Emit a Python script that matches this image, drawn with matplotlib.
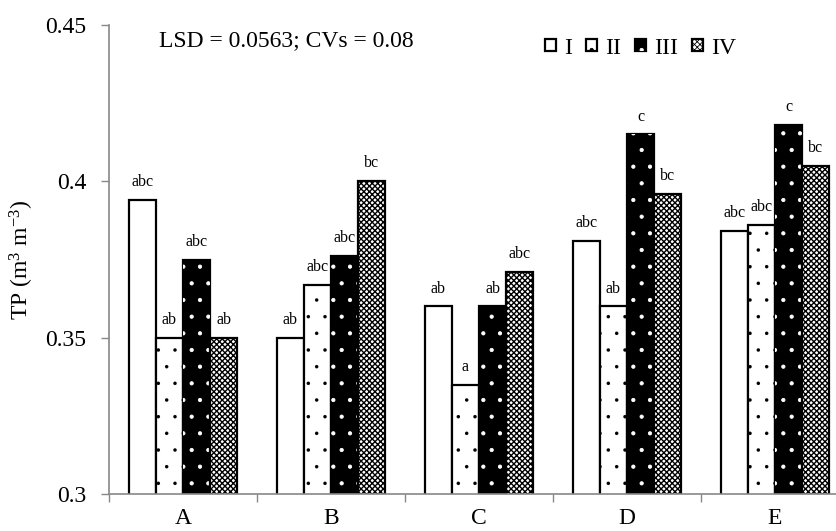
import matplotlib
matplotlib.use("Agg")
import matplotlib.pyplot as plt
import numpy as np

plt.rcParams['font.family'] = ['Liberation Serif', 'DejaVu Serif']
plt.rcParams['mathtext.fontset'] = 'custom'
plt.rcParams['mathtext.rm'] = 'Liberation Serif'
plt.rcParams['mathtext.it'] = 'Liberation Serif:italic'
plt.rcParams['hatch.linewidth'] = 0.6

# treatments on the x axis and the four series
groups = ['A', 'B', 'C', 'D', 'E']
series = ['I', 'II', 'III', 'IV']
tp_I = [0.394, 0.350, 0.360, 0.381, 0.384]
tp_II = [0.350, 0.367, 0.335, 0.360, 0.386]
tp_III = [0.375, 0.376, 0.360, 0.415, 0.418]
tp_IV = [0.350, 0.400, 0.371, 0.396, 0.405]
letters_I = ['abc', 'ab', 'ab', 'abc', 'abc']
letters_II = ['ab', 'abc', 'a', 'ab', 'abc']
letters_III = ['abc', 'abc', 'ab', 'c', 'c']
letters_IV = ['ab', 'bc', 'abc', 'bc', 'bc']

values = [tp_I, tp_II, tp_III, tp_IV]
letters = [letters_I, letters_II, letters_III, letters_IV]

fs = 17

fig = plt.figure(figsize=(8.36, 5.31), dpi=100)
ax = fig.add_axes([109/836, 37/531, 740/836, 469/531])

x = np.arange(len(groups))
w = 0.184
offsets = (np.arange(4) - 1.5) * w
lw = 1.6

handles = []
for i in range(4):
    pos = x + offsets[i]
    if i == 0:
        b = ax.bar(pos, values[i], w, color='white', edgecolor='black', linewidth=lw)
        h = b[0]
    elif i == 1:
        b = ax.bar(pos, values[i], w, color='white', edgecolor='black', linewidth=lw, hatch='.')
        for p in b:
            p.set_hatch_linewidth(0.1)
        h = b[0]
    elif i == 2:
        b = ax.bar(pos, values[i], w, color='black', edgecolor='black', linewidth=lw)
        # white square dots over the black fill
        d = ax.bar(pos, values[i], w, fill=False, edgecolor='white', linewidth=0, hatch='.')
        h = (b[0], d[0])
    else:
        b = ax.bar(pos, values[i], w, color='white', edgecolor='black', linewidth=lw, hatch='xxxxxx')
        for p in b:
            p.set_hatch_linewidth(1.0)
        h = b[0]
    handles.append(h)
    for xp, v, t in zip(pos, values[i], letters[i]):
        ax.annotate(t, (xp, v), xytext=(0, 10), textcoords='offset points',
                    ha='center', va='baseline', fontsize=11.5)

ax.set_xlim(-0.5, 4.5)
ax.set_ylim(0.3, 0.45)
ax.set_yticks([0.3, 0.35, 0.4, 0.45])
ax.set_yticklabels(['0.3', '0.35', '0.4', '0.45'])
ax.set_xticks(x)
ax.set_xticklabels(groups)
ax.set_xticks(np.arange(len(groups) + 1) - 0.5, minor=True)
ax.tick_params(axis='x', which='major', length=0, pad=10, labelsize=fs)
ax.tick_params(axis='x', which='minor', length=5.5, color='#888888', width=1)
ax.tick_params(axis='y', length=5.5, color='#888888', width=1, pad=11, labelsize=fs)

for s in ['top', 'right']:
    ax.spines[s].set_visible(False)
for s in ['left', 'bottom']:
    ax.spines[s].set_color('#888888')
    ax.spines[s].set_linewidth(1.2)

ax.set_ylabel('TP (m$^{3}$ m$^{-3}$)', fontsize=fs)
ax.yaxis.set_label_coords(-0.099, 0.5)

fig.text(159/836, 1 - 41/531, 'LSD = 0.0563; CVs = 0.08',
         ha='left', va='center', fontsize=fs)

leg = ax.legend(handles, series, loc='center left',
                bbox_to_anchor=(545/836, 1 - 48/531), bbox_transform=fig.transFigure,
                ncol=4, frameon=False, fontsize=fs, handlelength=0.45, handleheight=0.45,
                handletextpad=0.35, columnspacing=0.6, borderpad=0, borderaxespad=0)

fig.savefig('out.png', dpi=100)
